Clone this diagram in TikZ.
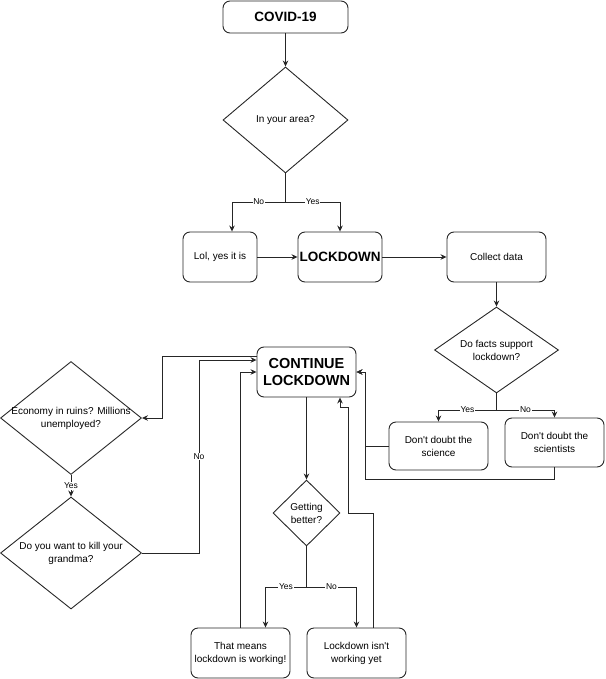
\documentclass[tikz,border=0pt]{standalone}
\usepackage{fontspec}
\setmainfont{Liberation Sans}
\newfontfamily\arial{Liberation Sans}
\usetikzlibrary{shapes.geometric,arrows.meta,calc}
\begin{document}
\begin{tikzpicture}[x=1pt,y=-1pt,
  lc/.style={draw=black!85, line width=0.9pt},
  rbox/.style={lc, rectangle, rounded corners=7pt, inner sep=0pt, align=center,
    font=\arial\fontsize{10}{13}\selectfont, minimum width=99pt, minimum height=50pt},
  bbox/.style={rbox, font=\arial\bfseries\fontsize{13.5}{16}\selectfont},
  dia/.style={lc, diamond, inner sep=0pt},
  dtext/.style={align=center, font=\arial\fontsize{10}{13}\selectfont},
  arr/.style={lc, -{Stealth[length=6pt,width=5.5pt]}},
  lab/.style={fill=white, inner sep=0.8pt, font=\arial\fontsize{8.5}{10}\selectfont}]
\useasboundingbox (0,0) rectangle (605,679);

% nodes
\node[bbox, minimum width=125pt, minimum height=32pt] (covid) at (285.5,17) {COVID-19};
\node[dia, minimum width=125pt, minimum height=106pt,
  label={[dtext]center:In your area?}] (area) at (285.5,120) {};
\node[rbox, minimum width=74pt] (lol) at (220,257) {Lol, yes it is};
\node[bbox, minimum width=84pt] (lock) at (340,257) {LOCKDOWN};
\node[rbox] (collect) at (496.5,257) {Collect data};
\node[dia, minimum width=124pt, minimum height=86pt,
  label={[dtext]center:Do facts support\\lockdown?}] (facts) at (496.5,350) {};
\node[rbox, minimum height=48pt] (science) at (438.5,446) {Don't doubt the\\science};
\node[rbox, minimum height=49pt] (scientists) at (554.5,442.5) {Don't doubt the\\scientists};
\node[bbox, font=\arial\bfseries\fontsize{14.5}{17}\selectfont] (cont) at (306.5,372) {CONTINUE\\LOCKDOWN};
\node[dia, minimum width=67pt, minimum height=66pt,
  label={[dtext]center:Getting\\better?}] (getting) at (306.5,513) {};
\node[rbox] (means) at (240.5,653) {That means\\lockdown is working!};
\node[rbox] (notyet) at (356.5,653) {Lockdown isn't\\working yet};
\node[dia, minimum width=141pt, minimum height=113pt,
  label={[dtext]center:Economy in ruins? Millions\\unemployed?}] (eco) at (71,418) {};
\node[dia, minimum width=141pt, minimum height=112pt,
  label={[dtext]center:Do you want to kill your\\grandma?}] (grandma) at (71,553) {};

% helper coordinates
\coordinate (b1) at (285.5,202);
\coordinate (b2) at (496.5,410);
\coordinate (b3) at (306.5,587);
\coordinate (lt) at ($(lol.north)+(12,0)$);
\coordinate (mt) at ($(means.north)+(25,0)$);
\coordinate (c1) at (365,479);
\coordinate (e1) at (162,356);
\coordinate (g1) at (199,360);
\coordinate (n1) at (373,513);
\coordinate (n2) at (348,513);
\coordinate (n3) at (348,407);
\coordinate (n4) at (340,407);
\coordinate (nt) at ($(notyet.north)+(16.5,0)$);

% connectors
\draw[arr] (covid) -- (area);
\draw[lc] (area.south) -- (b1);
\draw[arr] (b1) -| node[lab,pos=0.25]{No} (lt);
\draw[arr] (b1) -| node[lab,pos=0.25]{Yes} (lock.north);
\draw[arr] (lol) -- (lock);
\draw[arr] (lock) -- (collect);
\draw[arr] (collect) -- (facts);
\draw[lc] (facts.south) -- (b2);
\draw[arr] (b2) -| node[lab,pos=0.25]{Yes} (science.north);
\draw[arr] (b2) -| node[lab,pos=0.25]{No} (scientists.north);
\draw[arr] (science.west) -| (c1 |- cont.east) -- (cont.east);
\draw[arr] (scientists.south) |- (c1) |- (cont.east);
\draw[arr] (cont) -- (getting);
\draw[lc] (getting.south) -- (b3);
\draw[arr] (b3) -| node[lab,pos=0.25]{Yes} (mt);
\draw[arr] (b3) -| node[lab,pos=0.25]{No} (notyet.north);
\draw[arr] (means.north) |- (cont.west);
\draw[arr] (nt) -- (n1) -- (n2) -- (n3) -- (n4) -- (cont.south -| n4);
\draw[arr] (cont.west |- e1) -- (e1) |- (eco.east);
\draw[arr] (eco.south) -- node[lab]{Yes} (grandma.north);
\draw[arr] (grandma.east) -| node[lab,pos=0.75]{No} (g1) -- (cont.west |- g1);
\end{tikzpicture}
\end{document}
